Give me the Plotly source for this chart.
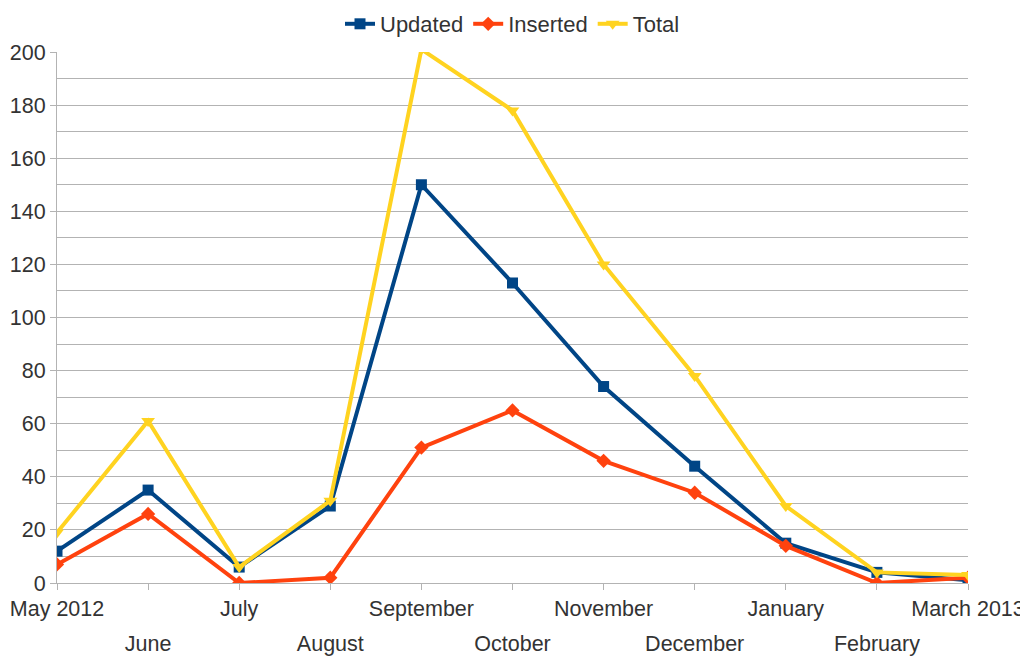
import plotly.graph_objects as go

months = ["May 2012", "June", "July", "August", "September", "October",
          "November", "December", "January", "February", "March 2013"]
updated = [12, 35, 6, 29, 150, 113, 74, 44, 15, 4, 1]
inserted = [7, 26, 0, 2, 51, 65, 46, 34, 14, 0, 2]
total = [19, 61, 6, 31, 201, 178, 120, 78, 29, 4, 3]

xpos = list(range(len(months)))
low_vals = [i for i in xpos if i % 2 == 1]
low_text = [months[i] for i in low_vals]
top_text = [m if i % 2 == 0 else "" for i, m in enumerate(months)]

FONT = "Liberation Sans, Arial, sans-serif"
GRID = "#b3b3b3"
TXT = "#333333"
TICK_SIZE = 21.5
H = 649

fig = go.Figure()
series = [
    ("Updated", updated, "#004586", "square", 11),
    ("Inserted", inserted, "#ff420e", "diamond", 11),
    ("Total", total, "#ffd320", "triangle-down", 12),
]
for name, vals, col, sym, sz in series:
    fig.add_trace(go.Scatter(
        x=xpos, y=vals, name=name, mode="lines+markers",
        line=dict(color=col, width=4),
        marker=dict(symbol=sym, size=sz, color=col),
        cliponaxis=True,
    ))
# invisible carrier so the second (staggered label) axis gets drawn
fig.add_trace(go.Scatter(x=xpos, y=total, xaxis="x2", mode="lines",
                         line=dict(width=0), opacity=0, showlegend=False,
                         hoverinfo="skip"))

# page body has an 8px margin, so the figure is offset by 8px
fig.update_layout(
    width=1020, height=H,
    margin=dict(l=49, r=60, t=44, b=74),
    paper_bgcolor="white", plot_bgcolor="white",
    font=dict(family=FONT, size=22, color=TXT),
    legend=dict(orientation="h", x=0.5, xanchor="center",
                yref="container", y=1 - 16 / H, yanchor="middle",
                font=dict(size=22, color=TXT), itemwidth=30,
                bgcolor="rgba(0,0,0,0)"),
    showlegend=True,
    xaxis=dict(
        range=[0, len(months) - 1], tickmode="array", tickvals=xpos,
        ticktext=top_text, tickangle=0, automargin=False,
        showgrid=False, showline=True, linecolor=GRID, linewidth=1,
        ticks="outside", ticklen=6, tickcolor=GRID, zeroline=False,
        tickfont=dict(size=TICK_SIZE, color=TXT),
    ),
    xaxis2=dict(
        overlaying="x", anchor="y", side="bottom",
        range=[0, len(months) - 1], tickmode="array",
        tickvals=low_vals, ticktext=low_text, tickangle=0, automargin=False,
        showgrid=False, showline=False, zeroline=False, ticks="",
        ticklabelstandoff=45, tickfont=dict(size=TICK_SIZE, color=TXT),
    ),
    yaxis=dict(
        range=[0, 200], dtick=20, showgrid=True, gridcolor=GRID, gridwidth=1,
        minor=dict(dtick=10, showgrid=True, gridcolor=GRID, gridwidth=1),
        showline=True, linecolor=GRID, linewidth=1, automargin=False,
        ticks="outside", ticklen=6, tickcolor=GRID, zeroline=False,
        tickfont=dict(size=TICK_SIZE, color=TXT),
    ),
)

fig.write_html("out.html")
